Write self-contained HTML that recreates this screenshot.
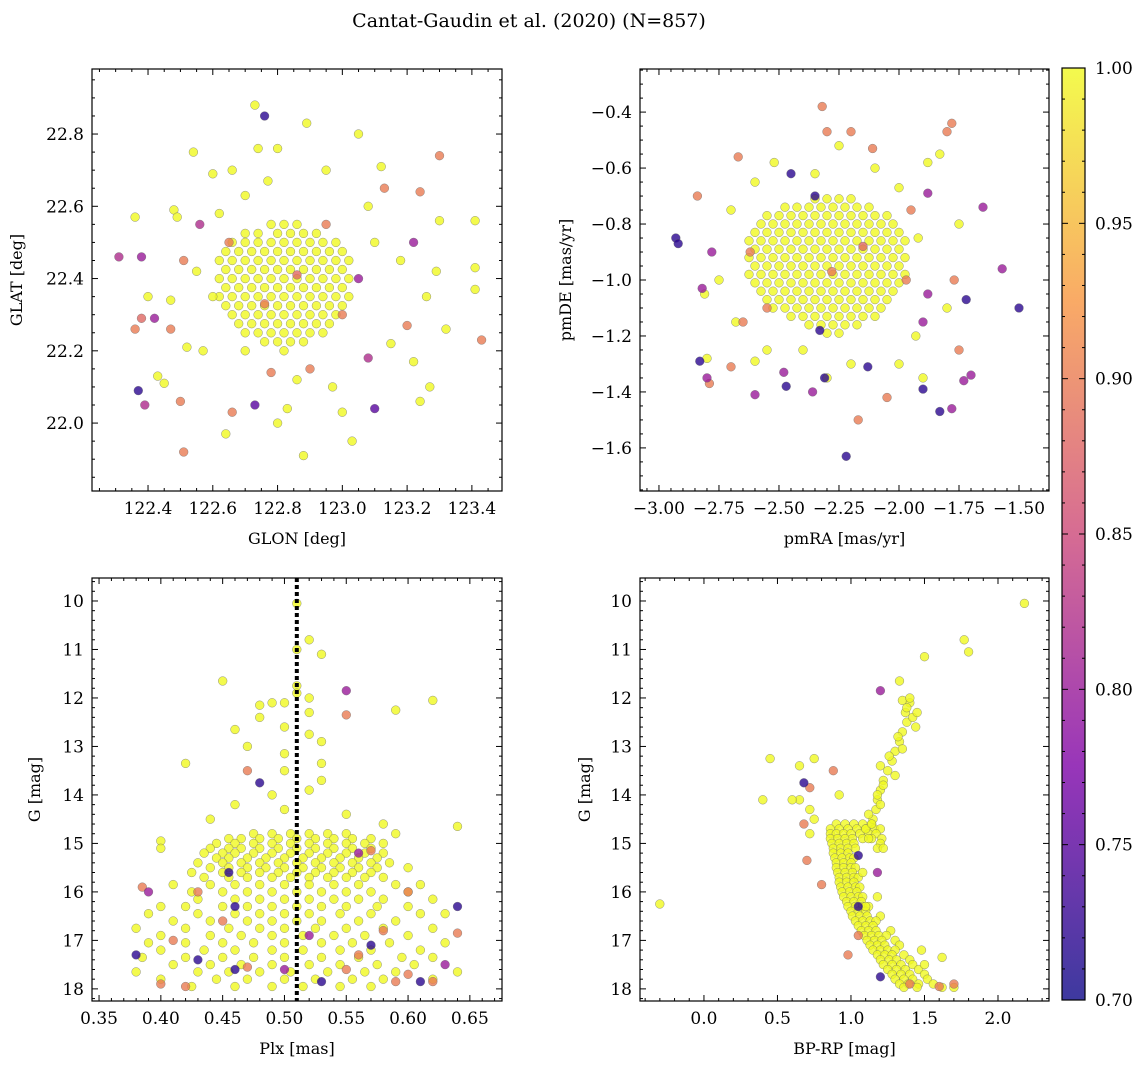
<!DOCTYPE html>
<html><head><meta charset="utf-8">
<style>
html,body{margin:0;padding:0;background:#fff;}
svg{display:block;font-family:"DejaVu Serif","Liberation Serif",serif;}
</style></head>
<body>
<svg id="fig" width="1148" height="1068" viewBox="0 0 1148 1068" xmlns="http://www.w3.org/2000/svg">
<text x="529" y="27" font-size="19" text-anchor="middle">Cantat-Gaudin et al. (2020) (N=857)</text>
</svg>
<script>
// ---------- DATA ----------
// Panel 1: GLON / GLAT (core rows: [lat, [lons]])
const tlCoreRows = [
 [22.55,[122.78,122.82,122.86]],
 [22.525,[122.70,122.74,122.80,122.84,122.88,122.92]],
 [22.50,[122.66,122.70,122.74,122.78,122.82,122.86,122.90,122.94,122.98]],
 [22.475,[122.64,122.68,122.72,122.76,122.80,122.84,122.88,122.92,122.96,123.00]],
 [22.45,[122.62,122.66,122.70,122.74,122.78,122.82,122.86,122.90,122.94,122.98,123.02]],
 [22.425,[122.64,122.68,122.72,122.76,122.80,122.84,122.88,122.92,122.96,123.00]],
 [22.40,[122.62,122.66,122.70,122.74,122.78,122.82,122.86,122.90,122.94,122.98,123.02]],
 [22.375,[122.64,122.68,122.72,122.76,122.80,122.84,122.88,122.92,122.96,123.00]],
 [22.35,[122.62,122.66,122.70,122.74,122.78,122.82,122.86,122.90,122.94,122.98,123.02]],
 [22.325,[122.64,122.68,122.72,122.76,122.80,122.84,122.88,122.92,122.96,123.00]],
 [22.30,[122.66,122.70,122.74,122.78,122.82,122.86,122.90,122.94,122.98]],
 [22.275,[122.68,122.72,122.76,122.80,122.84,122.88,122.92,122.96]],
 [22.25,[122.70,122.74,122.78,122.82,122.86,122.90,122.94]],
 [22.225,[122.76,122.80,122.84,122.88]],
 [22.20,[122.82]]
];
const tlGlon = [122.31,122.36,122.37,122.39,122.38,122.36,122.38,122.40,122.42,122.43,122.45,122.47,122.47,122.48,122.49,122.50,122.51,122.51,122.52,122.54,122.56,122.55,122.57,122.60,122.62,122.64,122.66,122.66,122.70,122.73,122.73,122.74,122.76,122.77,122.80,122.78,122.80,122.83,122.86,122.88,122.89,122.95,122.97,123.00,123.03,123.05,123.08,123.10,123.12,123.13,123.15,123.18,123.20,123.22,123.22,123.24,123.24,123.26,123.27,123.29,123.30,123.30,123.32,123.41,123.41,123.41,123.43,123.05,123.00,122.65,123.08,122.95,122.70,122.90,122.60,123.10,122.86,122.76];
const tlGlat = [22.46,22.57,22.09,22.05,22.46,22.26,22.29,22.35,22.29,22.13,22.11,22.26,22.34,22.59,22.57,22.06,21.92,22.45,22.21,22.75,22.55,22.42,22.20,22.69,22.58,21.97,22.03,22.70,22.63,22.88,22.05,22.76,22.85,22.67,22.76,22.14,22.00,22.04,22.12,21.91,22.83,22.70,22.10,22.03,21.95,22.80,22.18,22.04,22.71,22.65,22.22,22.45,22.27,22.50,22.17,22.64,22.06,22.35,22.10,22.42,22.56,22.74,22.26,22.56,22.43,22.37,22.23,22.40,22.30,22.50,22.60,22.55,22.20,22.15,22.35,22.50,22.41,22.33];
const tlProb = [0.82,1,0.72,0.82,0.80,0.90,0.88,1,0.80,1,1,0.90,1,1,1,0.90,0.90,0.90,1,1,0.82,1,1,1,1,1,0.90,1,1,1,0.75,1,0.72,1,1,0.90,1,1,1,1,1,1,1,1,1,1,0.82,0.75,1,0.90,1,1,0.90,0.80,1,0.90,1,1,1,1,1,0.90,1,1,1,1,0.90,0.80,0.90,0.90,1,0.90,1,0.90,1,1,0.88,0.90];

// Panel 2: pmRA / pmDE
const trCoreRows = [
 [-0.71,[-2.35,-2.30,-2.25,-2.20]],
 [-0.74,[-2.475,-2.425,-2.375,-2.325,-2.275,-2.225,-2.175,-2.125]],
 [-0.77,[-2.55,-2.50,-2.45,-2.40,-2.35,-2.30,-2.25,-2.20,-2.15,-2.10,-2.05]],
 [-0.80,[-2.575,-2.525,-2.475,-2.425,-2.375,-2.325,-2.275,-2.225,-2.175,-2.125,-2.075,-2.025]],
 [-0.83,[-2.60,-2.55,-2.50,-2.45,-2.40,-2.35,-2.30,-2.25,-2.20,-2.15,-2.10,-2.05,-2.00]],
 [-0.86,[-2.625,-2.575,-2.525,-2.475,-2.425,-2.375,-2.325,-2.275,-2.225,-2.175,-2.125,-2.075,-2.025,-1.975]],
 [-0.89,[-2.60,-2.55,-2.50,-2.45,-2.40,-2.35,-2.30,-2.25,-2.20,-2.15,-2.10,-2.05,-2.00]],
 [-0.92,[-2.625,-2.575,-2.525,-2.475,-2.425,-2.375,-2.325,-2.275,-2.225,-2.175,-2.125,-2.075,-2.025,-1.975]],
 [-0.95,[-2.60,-2.55,-2.50,-2.45,-2.40,-2.35,-2.30,-2.25,-2.20,-2.15,-2.10,-2.05,-2.00]],
 [-0.98,[-2.625,-2.575,-2.525,-2.475,-2.425,-2.375,-2.325,-2.275,-2.225,-2.175,-2.125,-2.075,-2.025,-1.975]],
 [-1.01,[-2.60,-2.55,-2.50,-2.45,-2.40,-2.35,-2.30,-2.25,-2.20,-2.15,-2.10,-2.05,-2.00]],
 [-1.04,[-2.575,-2.525,-2.475,-2.425,-2.375,-2.325,-2.275,-2.225,-2.175,-2.125,-2.075,-2.025]],
 [-1.07,[-2.55,-2.50,-2.45,-2.40,-2.35,-2.30,-2.25,-2.20,-2.15,-2.10,-2.05]],
 [-1.10,[-2.525,-2.475,-2.425,-2.375,-2.325,-2.275,-2.225,-2.175,-2.125,-2.075]],
 [-1.13,[-2.45,-2.40,-2.35,-2.30,-2.25,-2.20,-2.15,-2.10]],
 [-1.16,[-2.375,-2.325,-2.275,-2.225,-2.175]],
 [-1.19,[-2.30,-2.25]]
];
const trPmra = [-2.93,-2.92,-2.84,-2.78,-2.83,-2.80,-2.80,-2.79,-2.82,-2.81,-2.67,-2.52,-2.45,-2.32,-2.30,-2.25,-2.20,-2.11,-1.80,-1.78,-1.83,-1.88,-1.88,-1.65,-1.57,-1.50,-1.72,-1.75,-1.73,-1.70,-1.78,-1.83,-1.90,-2.22,-2.17,-2.36,-2.47,-2.48,-2.60,-2.60,-2.70,-2.33,-2.30,-2.31,-2.13,-2.05,-1.93,-1.90,-1.88,-1.77,-1.97,-2.68,-2.65,-2.55,-2.40,-2.20,-2.00,-1.90,-2.10,-2.00,-2.60,-2.70,-2.35,-1.95,-1.92,-2.62,-2.55,-2.35,-1.80,-1.75,-2.75,-2.28,-2.15];
const trPmde = [-0.85,-0.87,-0.70,-0.90,-1.29,-1.28,-1.35,-1.37,-1.03,-1.05,-0.56,-0.58,-0.62,-0.38,-0.47,-0.52,-0.47,-0.53,-0.47,-0.44,-0.55,-0.58,-0.69,-0.74,-0.96,-1.10,-1.07,-1.25,-1.36,-1.34,-1.46,-1.47,-1.39,-1.63,-1.50,-1.40,-1.38,-1.33,-1.41,-1.29,-1.31,-1.18,-1.35,-1.35,-1.31,-1.42,-1.20,-1.15,-1.05,-1.00,-1.00,-1.15,-1.15,-1.25,-1.25,-1.30,-1.30,-1.35,-0.60,-0.67,-0.65,-0.75,-0.62,-0.75,-0.85,-0.90,-1.10,-0.70,-1.10,-0.80,-1.00,-0.97,-0.88];
const trProb = [0.72,0.72,0.90,0.80,0.72,1,0.80,0.90,0.80,1,0.90,1,0.72,0.90,0.90,1,0.90,0.90,0.90,0.90,1,1,0.80,0.80,0.80,0.72,0.72,0.90,0.80,0.80,0.80,0.72,0.72,0.72,0.90,0.80,0.72,0.80,0.80,1,0.90,0.72,1,0.72,0.72,0.90,1,0.80,0.80,0.90,0.90,1,0.90,1,1,1,1,1,1,1,1,1,1,0.90,1,0.90,0.90,0.72,1,1,1,0.90,0.88];

// Panel 3: Plx / G (rows: [G, [plx]])
const blCoreRows = [
 [14.8,[0.475,0.49,0.505,0.52,0.535,0.55]],
 [14.9,[0.455,0.465,0.48,0.495,0.51,0.525,0.54,0.555,0.57]],
 [15.0,[0.445,0.46,0.475,0.49,0.505,0.52,0.535,0.55,0.565,0.58]],
 [15.1,[0.44,0.455,0.465,0.48,0.495,0.51,0.525,0.54,0.555,0.57]],
 [15.2,[0.435,0.45,0.46,0.475,0.49,0.505,0.52,0.535,0.55,0.565,0.58]],
 [15.3,[0.445,0.455,0.47,0.485,0.50,0.515,0.53,0.545,0.56,0.575]],
 [15.4,[0.43,0.45,0.465,0.48,0.495,0.51,0.525,0.54,0.555,0.57,0.585]],
 [15.5,[0.44,0.455,0.47,0.485,0.50,0.515,0.53,0.545,0.56,0.575,0.60]],
 [15.6,[0.425,0.45,0.465,0.48,0.495,0.51,0.525,0.54,0.555,0.57]],
 [15.7,[0.435,0.455,0.47,0.49,0.505,0.52,0.535,0.55,0.565,0.58]],
 [15.85,[0.41,0.44,0.46,0.48,0.50,0.52,0.54,0.56,0.59,0.61]],
 [16.0,[0.425,0.45,0.47,0.49,0.51,0.53,0.55,0.57,0.60]],
 [16.15,[0.43,0.46,0.48,0.50,0.52,0.54,0.56,0.58,0.62]],
 [16.3,[0.40,0.42,0.45,0.47,0.49,0.51,0.53,0.55,0.575,0.60]],
 [16.45,[0.39,0.43,0.46,0.48,0.50,0.52,0.545,0.57,0.61,0.63]],
 [16.6,[0.41,0.44,0.47,0.49,0.51,0.53,0.56,0.59]],
 [16.75,[0.38,0.42,0.455,0.48,0.50,0.525,0.55,0.58,0.62]],
 [16.9,[0.40,0.44,0.465,0.49,0.515,0.54,0.565,0.60]],
 [17.05,[0.39,0.42,0.45,0.475,0.50,0.53,0.555,0.585,0.63]],
 [17.2,[0.40,0.435,0.46,0.49,0.515,0.545,0.57,0.61]],
 [17.35,[0.385,0.42,0.45,0.475,0.50,0.53,0.56,0.595,0.62]],
 [17.5,[0.41,0.44,0.465,0.49,0.52,0.545,0.575,0.605]],
 [17.65,[0.38,0.43,0.455,0.48,0.505,0.535,0.565,0.59,0.64]],
 [17.8,[0.40,0.445,0.47,0.50,0.525,0.555,0.58,0.62]],
 [17.95,[0.425,0.46,0.49,0.515,0.545,0.57]]
];
const blPlx = [0.51,0.52,0.53,0.51,0.45,0.55,0.62,0.59,0.55,0.49,0.50,0.48,0.51,0.51,0.52,0.50,0.48,0.46,0.52,0.47,0.50,0.42,0.47,0.50,0.53,0.53,0.48,0.49,0.52,0.46,0.44,0.50,0.55,0.58,0.64,0.59,0.40,0.40,0.52,0.53,
 0.385,0.39,0.38,0.40,0.42,0.43,0.46,0.47,0.46,0.455,0.50,0.53,0.55,0.59,0.60,0.61,0.62,0.63,0.64,0.64,0.60,0.57,0.56,0.58,0.56,0.41,0.45,0.52,0.57,0.43];
const blG = [10.05,10.8,11.1,11.0,11.65,11.85,12.05,12.25,12.35,12.1,12.1,12.15,11.75,11.9,12.0,12.6,12.4,12.65,12.75,13.0,13.15,13.35,13.5,13.5,13.35,13.7,13.75,14.0,13.9,14.2,14.5,14.3,14.4,14.6,14.65,14.8,14.95,15.1,12.3,12.9,
 15.9,16.0,17.3,17.9,17.95,17.4,17.6,17.55,16.3,15.6,17.6,17.85,17.6,17.85,17.7,17.85,17.85,17.5,16.3,16.85,16.0,15.15,15.2,16.8,17.3,17.0,16.6,16.9,17.1,16.0];
const blProb = [1,1,1,1,1,0.80,1,1,0.90,1,1,1,1,1,1,1,1,1,1,1,1,1,0.90,1,1,1,0.72,1,1,1,1,1,1,1,1,1,1,1,1,1,
 0.90,0.80,0.72,0.90,0.90,0.72,0.72,0.90,0.72,0.72,0.80,0.72,0.90,0.90,0.90,0.72,0.90,0.80,0.72,0.90,0.90,0.90,0.80,0.90,0.90,0.90,0.90,0.80,0.72,0.90];
const plxLine = 0.51;

// Panel 4: BP-RP / G (rows: [G, [colors]])
const brCoreRows = [
 [14.6,[0.90,0.96,1.02,1.08,1.14]],
 [14.7,[0.86,0.92,0.98,1.04,1.10,1.16,1.20]],
 [14.8,[0.86,0.90,0.95,1.00,1.06,1.12,1.17]],
 [14.9,[0.86,0.91,0.96,1.01,1.08,1.14,1.21]],
 [15.0,[0.87,0.92,0.97,1.02,1.20]],
 [15.1,[0.88,0.93,0.98,1.03,1.18]],
 [15.2,[0.88,0.93,0.98]],
 [15.3,[0.89,0.94,0.99,1.02]],
 [15.4,[0.90,0.95,1.00]],
 [15.5,[0.90,0.95,1.00,1.03]],
 [15.6,[0.91,0.96,1.01]],
 [15.7,[0.92,0.97,1.02,1.05]],
 [15.8,[0.92,0.97,1.02]],
 [15.9,[0.93,0.98,1.03,1.06]],
 [16.0,[0.94,0.99,1.04]],
 [16.1,[0.95,1.00,1.05,1.08]],
 [16.2,[0.97,1.02,1.07]],
 [16.3,[0.98,1.03,1.08,1.12]],
 [16.4,[1.00,1.05,1.10]],
 [16.5,[1.01,1.06,1.11,1.20]],
 [16.6,[1.03,1.08,1.13,1.17]],
 [16.7,[1.05,1.10,1.15]],
 [16.8,[1.07,1.12,1.17,1.27]],
 [16.9,[1.09,1.14,1.19,1.24]],
 [17.0,[1.11,1.16,1.21,1.30]],
 [17.1,[1.13,1.18,1.23,1.33]],
 [17.2,[1.15,1.20,1.25,1.30]],
 [17.3,[1.18,1.23,1.28,1.36]],
 [17.4,[1.20,1.26,1.31,1.40]],
 [17.5,[1.22,1.28,1.34,1.42]],
 [17.6,[1.25,1.31,1.37,1.46]],
 [17.7,[1.28,1.34,1.40,1.50]],
 [17.8,[1.30,1.36,1.42,1.52]],
 [17.9,[1.33,1.39,1.46,1.56]],
 [17.97,[1.36,1.45,1.62,1.70]]
];
const brColor = [1.15,1.17,1.18,1.20,1.22,1.25,1.28,1.30,1.33,1.35,1.38,1.37,1.40,1.35,1.42,1.44,1.10,1.14,1.12,1.20,1.35,1.40,1.45,1.33,1.18,1.22,1.26,1.32,1.38,
 0.65,0.75,0.68,0.72,0.65,0.60,0.45,0.40,-0.30,2.18,1.77,1.80,1.50,1.20,1.20,1.30,0.75,0.72,0.68,0.70,0.80,0.98,1.05,1.05,1.05,1.18,1.18,1.20,1.40,1.60,1.70,1.62,1.48,1.50,0.88,0.92,1.08,1.10,0.72,1.22,1.12];
const brG = [14.5,14.3,14.1,13.9,13.7,13.5,13.3,13.1,12.9,12.7,12.5,12.3,12.1,12.05,12.4,12.6,14.7,14.6,14.4,14.2,13.05,12.0,12.3,11.65,14.0,13.8,13.2,12.8,12.2,
 13.4,13.25,13.75,13.85,14.1,14.1,13.25,14.1,16.25,10.05,10.8,11.05,11.15,11.85,13.4,13.6,14.5,14.8,14.6,15.35,15.85,17.3,15.25,16.9,16.3,15.6,16.1,17.75,17.9,17.95,17.9,17.35,17.2,17.5,13.5,14.0,15.6,16.3,14.3,15.1,14.9];
const brProb = [1,1,1,1,1,1,1,1,1,1,1,1,1,1,1,1,1,1,1,1,1,1,1,1,1,1,1,1,1,
 1,1,0.72,0.90,1,1,1,1,1,1,1,1,1,0.80,1,1,1,1,0.90,0.90,0.90,0.90,0.72,0.90,0.72,0.80,1,0.72,0.90,0.90,0.90,1,1,1,0.90,1,1,1,1,1,1];

// ---------- RENDER ----------
const NS = "http://www.w3.org/2000/svg";
const svg = document.getElementById('fig');
function el(tag, attrs, parent){ const e=document.createElementNS(NS,tag); for(const k in attrs) e.setAttribute(k,attrs[k]); (parent||svg).appendChild(e); return e; }

const stops=[[0,[13,8,135]],[0.25,[126,3,168]],[0.5,[204,71,120]],[0.75,[248,149,64]],[1,[240,249,33]]];
function plasma(t){ t=Math.max(0,Math.min(1,t)); for(let i=1;i<stops.length;i++){ if(t<=stops[i][0]){ const a=stops[i-1],b=stops[i]; const f=(t-a[0])/(b[0]-a[0]); return 'rgb('+a[1].map((v,j)=>Math.round(v+(b[1][j]-v)*f)).join(',')+')'; } } return 'rgb(240,249,33)'; }
const cmin=0.7,cmax=1.0;

function fmt(v,d){ const s=Math.abs(v).toFixed(d); return (v< -1e-9?'\u2212':'')+s; }

function panel(cfg){
  const {name,L,T,R,B,x0,x1,y0,y1,xs,ys,cs,xMaj,xMin,yMaj,yMin,xd,yd,xlabel,ylabel,xStart,yStart} = cfg;
  const g=el('g',{});
  
  
  const X=v=>L+(v-x0)/(x1-x0)*(R-L);
  const Y=v=>T+(v-y0)/(y1-y0)*(B-T);
  const clipId='clip-'+name;
  const cp=el('clipPath',{id:clipId},g); el('rect',{x:L,y:T,width:R-L,height:B-T},cp);
  const pg=el('g',{'clip-path':'url(#'+clipId+')'},g);
  
  
  const idx=xs.map((_,i)=>i).sort((a,b)=>cs[b]-cs[a]);
  idx.forEach(i=>{
    const c=el('circle',{cx:X(xs[i]).toFixed(1),cy:Y(ys[i]).toFixed(1),r:4.4,fill:plasma((cs[i]-cmin)/(cmax-cmin)),'fill-opacity':0.8,stroke:'#666','stroke-opacity':0.7,'stroke-width':0.5},pg);
    
    
  });
  if(cfg.vline!==undefined){
    const ln=el('line',{x1:X(cfg.vline),x2:X(cfg.vline),y1:T,y2:B,stroke:'#000','stroke-width':4,'stroke-dasharray':'4,3'},g);
    
    
  }
  el('rect',{x:L,y:T,width:R-L,height:B-T,fill:'none',stroke:'#000','stroke-width':1.2},g);
  const tg=el('g',{stroke:'#000','stroke-width':1},g);
  const lo=Math.min(x0,x1),hi=Math.max(x0,x1);
  for(let k=Math.ceil((lo-xStart)/xMin-1e-6);;k++){ const v=xStart+k*xMin; if(v>hi+1e-9)break; const px=X(v); const maj=Math.abs(((v-xStart)/xMaj)-Math.round((v-xStart)/xMaj))<1e-6; const len=maj?6:3;
    el('line',{x1:px,x2:px,y1:B,y2:B-len},tg); el('line',{x1:px,x2:px,y1:T,y2:T+len},tg);
    if(maj){ const t=el('text',{x:px,y:B+23,'font-size':17,'text-anchor':'middle'},g); t.textContent=fmt(v,xd);   } }
  const ylo=Math.min(y0,y1),yhi=Math.max(y0,y1);
  for(let k=Math.ceil((ylo-yStart)/yMin-1e-6);;k++){ const v=yStart+k*yMin; if(v>yhi+1e-9)break; const py=Y(v); const maj=Math.abs(((v-yStart)/yMaj)-Math.round((v-yStart)/yMaj))<1e-6; const len=maj?6:3;
    el('line',{x1:L,x2:L+len,y1:py,y2:py},tg); el('line',{x1:R,x2:R-len,y1:py,y2:py},tg);
    if(maj){ const t=el('text',{x:L-8,y:py+6,'font-size':17,'text-anchor':'end'},g); t.textContent=fmt(v,yd);   } }
  const xl=el('text',{x:(L+R)/2,y:B+53,'font-size':16,'text-anchor':'middle'},g); xl.textContent=xlabel;
   
  const yx=cfg.ylx, yy=(T+B)/2;
  const yl=el('text',{x:yx,y:yy,'font-size':16,'text-anchor':'middle',transform:'rotate(-90 '+yx+' '+yy+')'},g); yl.textContent=ylabel;
   
}

function expand(rows, xs, ys, cs){
  const X=[],Y=[],C=[];
  rows.forEach(r=>r[1].forEach(v=>{ X.push(v); Y.push(r[0]); C.push(1); }));
  return [X.concat(xs),Y.concat(ys),C.concat(cs)];
}

let d;
d=expand(tlCoreRows,tlGlon,tlGlat,tlProb);
panel({name:'glon-glat-panel',L:92,T:69,R:502,B:491,x0:122.227,x1:123.493,y0:22.98,y1:21.812,xs:d[0],ys:d[1],cs:d[2],xMaj:0.2,xMin:0.05,yMaj:0.2,yMin:0.05,xStart:122.2,yStart:21.8,xd:1,yd:1,xlabel:'GLON [deg]',ylabel:'GLAT [deg]',ylx:22});
d=expand(trCoreRows,trPmra,trPmde,trProb);
panel({name:'proper-motion-panel',L:640,T:69,R:1049,B:491,x0:-3.079,x1:-1.375,y0:-0.246,y1:-1.754,xs:d[0],ys:d[1],cs:d[2],xMaj:0.25,xMin:0.05,yMaj:0.2,yMin:0.05,xStart:-3.25,yStart:-1.8,xd:2,yd:1,xlabel:'pmRA [mas/yr]',ylabel:'pmDE [mas/yr]',ylx:571});
d=expand(blCoreRows,blPlx,blG,blProb);
panel({name:'parallax-magnitude-panel',L:92,T:578,R:502,B:1001,x0:0.3443,x1:0.676,y0:9.526,y1:18.25,xs:d[0],ys:d[1],cs:d[2],xMaj:0.05,xMin:0.01,yMaj:1,yMin:0.2,xStart:0.3,yStart:9,xd:2,yd:0,xlabel:'Plx [mas]',ylabel:'G [mag]',ylx:40,vline:plxLine});
d=expand(brCoreRows,brColor,brG,brProb);
panel({name:'color-magnitude-panel',L:640,T:578,R:1049,B:1001,x0:-0.435,x1:2.347,y0:9.526,y1:18.25,xs:d[0],ys:d[1],cs:d[2],xMaj:0.5,xMin:0.1,yMaj:1,yMin:0.2,xStart:-1,yStart:9,xd:1,yd:0,xlabel:'BP-RP [mag]',ylabel:'G [mag]',ylx:590});

// colorbar
const cbTicks=[0.70,0.75,0.80,0.85,0.90,0.95,1.00];
(function(){
  const L=1062,R=1085,T=68,B=1000;
  const g=el('g',{});
  
  
  const defs=el('defs',{},g);
  const lg=el('linearGradient',{id:'cbgrad',x1:0,y1:1,x2:0,y2:0},defs);
  for(let i=0;i<=20;i++){ el('stop',{offset:(i/20),'stop-color':plasma(i/20),'stop-opacity':0.8},lg); }
  el('rect',{x:L,y:T,width:R-L,height:B-T,fill:'url(#cbgrad)',stroke:'#000','stroke-width':1.2},g);
  const Y=v=>B-(v-cmin)/(cmax-cmin)*(B-T);
  for(let k=0;k<=30;k++){ const v=cmin+k*0.01; const maj=k%5===0; const py=Y(v);
    el('line',{x1:R,x2:R-(maj?6:3),y1:py,y2:py,stroke:'#000','stroke-width':1},g);
    el('line',{x1:L,x2:L+(maj?6:3),y1:py,y2:py,stroke:'#000','stroke-width':1},g); }
  cbTicks.forEach(v=>{ const t=el('text',{x:R+10,y:Y(v)+6,'font-size':17},g); t.textContent=v.toFixed(2);   });
})();
</script>
</body></html>
